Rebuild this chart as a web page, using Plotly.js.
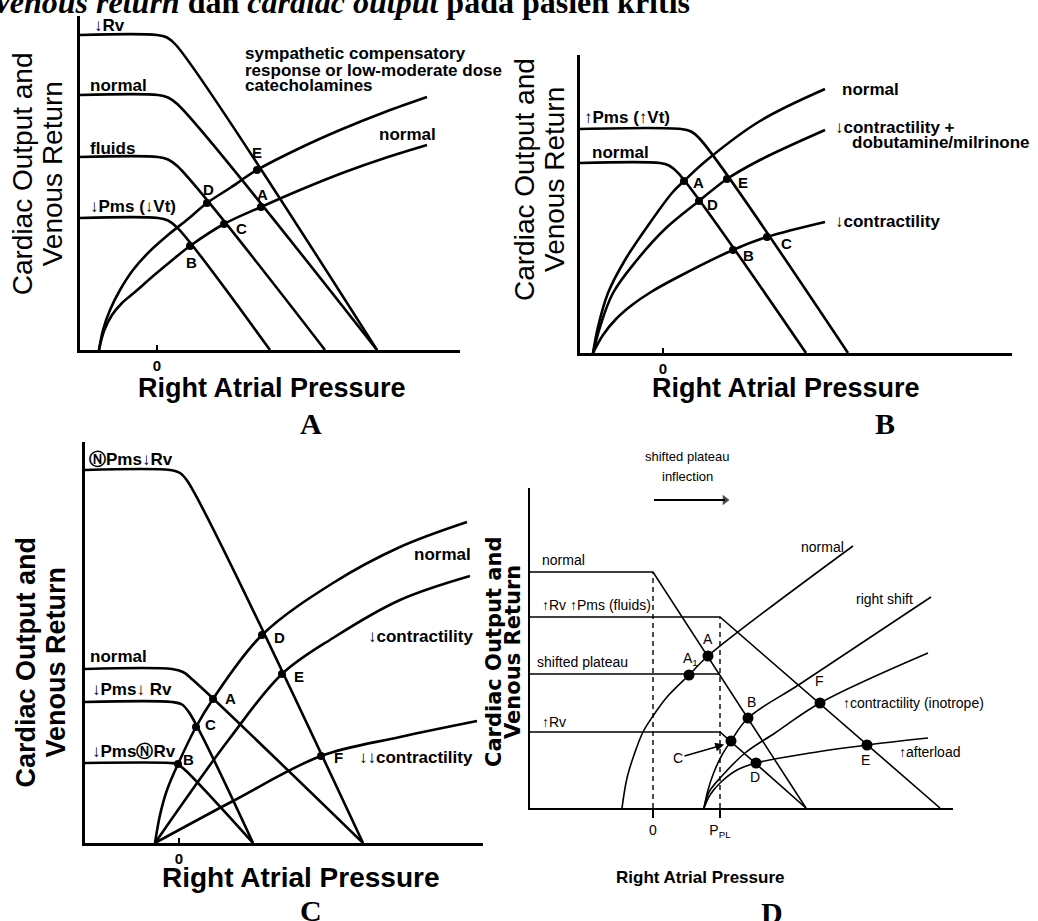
<!DOCTYPE html>
<html>
<head>
<meta charset="utf-8">
<script src="https://cdn.plot.ly/plotly-3.0.1.min.js"></script>
<style>html,body{margin:0;padding:0;background:#fff}#chart{width:1038px;height:921px}</style>
</head>
<body>
<div id="chart"></div>
<script>
// ---------------- Panel A (arbitrary units; 0 = "0" tick, y up from axis) ----------------
const aVrRvDownX   = [-7.7, 0.0, 1.0, 1.9, 22.0];
const aVrRvDownY   = [31.5, 31.5, 31.25, 30.5, 0];
const aVrNormalX   = [-7.7, 0.1, 1.1, 2.06, 22.0];
const aVrNormalY   = [25.5, 25.5, 25.25, 24.57, 0];
const aVrFluidsX   = [-7.7, 0.1, 1.1, 2.06, 16.8];
const aVrFluidsY   = [19.3, 19.3, 19.05, 18.37, 0];
const aVrPmsDownX  = [-7.7, 0.1, 1.1, 2.03, 11.3];
const aVrPmsDownY  = [13.2, 13.2, 12.95, 12.24, 0];
const aCoSympX     = [-5.8, -5.4, -4.7, -3.7, -2.4, -0.8, 1.1, 3.1, 5.0, 7.3, 10.0, 14.3, 18.3, 22.8, 27.0];
const aCoSympY     = [0, 2.0, 4.0, 6.0, 8.0, 9.8, 11.5, 13.1, 14.7, 16.2, 18.0, 20.2, 22.0, 23.8, 25.3];
const aCoNormalX   = [-5.8, -5.3, -4.5, -3.5, -2.2, -0.5, 1.3, 3.3, 6.7, 10.4, 14.3, 18.8, 22.8, 27.0];
const aCoNormalY   = [0, 1.9, 3.5, 4.7, 5.8, 7.3, 8.8, 10.4, 12.6, 14.3, 16.0, 17.8, 19.2, 20.5];
const aPtsX        = [10.0, 5.0, 10.4, 6.7, 3.3];
const aPtsY        = [18.0, 14.7, 14.3, 12.6, 10.4];

// ---------------- Panel B ----------------
const bVrPmsUpX    = [-8.3, 1.8, 2.8, 3.7, 18.5];
const bVrPmsUpY    = [22.4, 22.4, 22.15, 21.4, 0];
const bVrNormalX   = [-8.3, -0.3, 0.6, 1.5, 14.3];
const bVrNormalY   = [19.0, 19.0, 18.75, 18.02, 0];
const bCoNormalX   = [-7.0, -6.5, -5.5, -3.8, -1.6, 0.9, 2.1, 4.4, 9.7, 16.2];
const bCoNormalY   = [0, 2.6, 6.0, 9.3, 12.6, 16.0, 17.2, 19.3, 23.2, 26.4];
const bCoDobuX     = [-7.0, -6.3, -5.0, -2.6, 0.2, 3.6, 6.4, 9.7, 16.2];
const bCoDobuY     = [0, 2.6, 6.0, 9.3, 12.4, 15.2, 17.4, 19.3, 22.3];
const bCoLowX      = [-7.0, -6.0, -4.7, -3.1, -1.2, 1.5, 7.0, 10.4, 16.2];
const bCoLowY      = [0, 1.8, 3.4, 4.8, 6.1, 7.6, 10.3, 11.6, 13.1];
const bPtsX        = [2.1, 6.4, 3.6, 7.0, 10.4];
const bPtsY        = [17.2, 17.4, 15.2, 10.3, 11.6];

// ---------------- Panel C ----------------
const cVrTopX      = [-9.4, -0.9, 0.1, 0.82, 18.4];
const cVrTopY      = [37.3, 37.3, 37.0, 36.22, 0];
const cVrNormalX   = [-9.4, -0.7, 0.4, 1.4, 18.4];
const cVrNormalY   = [17.4, 17.4, 17.1, 16.3, 0];
const cVrLowBothX  = [-9.4, -0.7, 0.3, 1.03, 7.4];
const cVrLowBothY  = [14.1, 14.1, 13.85, 13.02, 0];
const cVrLowPmsX   = [-9.4, -0.9, -0.2, 0.5, 7.4];
const cVrLowPmsY   = [8.0, 8.0, 7.9, 7.4, 0];
const cCoNormalX   = [-2.4, -1.9, -1.2, -0.1, 1.7, 3.4, 8.3, 15.4, 22.1, 28.8];
const cCoNormalY   = [0, 2.8, 5.3, 7.9, 11.6, 14.4, 20.8, 26.0, 29.6, 32.1];
const cCoLowX      = [-2.4, 1.1, 5.1, 10.3, 15.4, 22.1, 29.1];
const cCoLowY      = [0, 5.0, 10.5, 16.9, 20.5, 24.3, 26.7];
const cCoVeryLowX  = [-2.4, 5.4, 14.2, 22.1, 29.8];
const cCoVeryLowY  = [0, 4.2, 8.7, 10.6, 12.2];
const cPtsX        = [8.3, 10.3, 3.4, 1.7, -0.1, 14.2];
const cPtsY        = [20.8, 16.9, 14.4, 11.6, 7.9, 8.7];

// ---------------- Panel D ----------------
const dPpl         = 6.7;
const dVrNormalX   = [-12.3, 0, 15.3];
const dVrNormalY   = [23.6, 23.6, 0];
const dVrFluidsX   = [-12.3, 6.7, 28.7];
const dVrFluidsY   = [19.1, 19.1, 0];
const dShiftPlatX  = [-12.3, 6.7];
const dShiftPlatY  = [13.4, 13.4];
const dVrRvX       = [-12.3, 6.7, 15.3];
const dVrRvY       = [7.6, 7.6, 0];
const dDash0X      = [0, 0];
const dDash0Y      = [0, 23.6];
const dDashPplX    = [6.7, 6.7];
const dDashPplY    = [0, 19.1];
const dCoNormalX   = [-3.1, -2.6, -1.9, -1.0, 0, 1.4, 3.6, 5.5, 20.0];
const dCoNormalY   = [0, 3.0, 5.3, 7.6, 9.2, 11.1, 13.3, 15.2, 26.2];
const dCoRightX    = [5.1, 5.5, 6.1, 6.9, 7.8, 9.5, 14.7, 27.8];
const dCoRightY    = [0, 1.8, 3.6, 5.3, 6.7, 9.0, 12.4, 21.1];
const dCoInoX      = [5.1, 5.6, 6.8, 9.2, 12.2, 16.7, 27.5];
const dCoInoY      = [0, 1.6, 3.1, 5.5, 7.5, 10.5, 15.5];
const dCoAfterX    = [5.1, 5.7, 6.7, 8.4, 10.3, 15.7, 21.4, 27.5];
const dCoAfterY    = [0, 1.3, 2.5, 3.8, 4.5, 5.5, 6.3, 7.0];
const dPtsX        = [5.5, 3.6, 9.5, 7.8, 10.3, 21.4, 16.7];
const dPtsY        = [15.2, 13.3, 9.0, 6.7, 4.5, 6.3, 10.5];
const dShiftArrowX = [0.1, 7.2];
const dShiftArrowY = [30.8, 30.8];

// ---------------- Text ----------------
const tickZero = ['0'];
const tickD = ['0', 'P<sub>PL</sub>'];

const W = 1038, H = 921;
const SANS = 'Liberation Sans, Arial, sans-serif';
const SERIF = 'Liberation Serif, Times New Roman, serif';
const DJ = 'DejaVu Sans, sans-serif';

const px = p => p / W;
const py = p => 1 - p / H;

const traces = [];
function curve(x, y, ax, w, shape, dash) {
  traces.push({type: 'scatter', mode: 'lines', x: x, y: y, xaxis: ax[0], yaxis: ax[1],
    line: {color: '#000', width: w, shape: shape || 'spline', smoothing: 1, dash: dash || 'solid'},
    hoverinfo: 'skip', showlegend: false});
}
function dots(x, y, ax, size) {
  traces.push({type: 'scatter', mode: 'markers', x: x, y: y, xaxis: ax[0], yaxis: ax[1],
    marker: {color: '#000', size: size}, hoverinfo: 'skip', showlegend: false, cliponaxis: false});
}
const A = ['x', 'y'], B = ['x2', 'y2'], C = ['x3', 'y3'], D = ['x4', 'y4'];

// Panel A
[[aVrRvDownX, aVrRvDownY], [aVrNormalX, aVrNormalY], [aVrFluidsX, aVrFluidsY], [aVrPmsDownX, aVrPmsDownY],
 [aCoSympX, aCoSympY], [aCoNormalX, aCoNormalY]].forEach(c => curve(c[0], c[1], A, 2.6));
dots(aPtsX, aPtsY, A, 8);
// Panel B
[[bVrPmsUpX, bVrPmsUpY], [bVrNormalX, bVrNormalY], [bCoNormalX, bCoNormalY], [bCoDobuX, bCoDobuY],
 [bCoLowX, bCoLowY]].forEach(c => curve(c[0], c[1], B, 2.6));
dots(bPtsX, bPtsY, B, 8);
// Panel C
[[cVrTopX, cVrTopY], [cVrNormalX, cVrNormalY], [cVrLowBothX, cVrLowBothY], [cVrLowPmsX, cVrLowPmsY],
 [cCoNormalX, cCoNormalY], [cCoLowX, cCoLowY], [cCoVeryLowX, cCoVeryLowY]].forEach(c => curve(c[0], c[1], C, 2.6));
dots(cPtsX, cPtsY, C, 8);
// Panel D
[[dVrNormalX, dVrNormalY], [dVrFluidsX, dVrFluidsY], [dShiftPlatX, dShiftPlatY], [dVrRvX, dVrRvY]]
  .forEach(c => curve(c[0], c[1], D, 1.6, 'linear'));
curve(dDash0X, dDash0Y, D, 1.4, 'linear', '5px,4px');
curve(dDashPplX, dDashPplY, D, 1.4, 'linear', '5px,4px');
[[dCoNormalX, dCoNormalY], [dCoRightX, dCoRightY], [dCoInoX, dCoInoY], [dCoAfterX, dCoAfterY]]
  .forEach(c => curve(c[0], c[1], D, 1.6));
dots(dPtsX, dPtsY, D, 11);
// "shifted plateau inflection" arrow
traces.push({type: 'scatter', mode: 'lines+markers', x: dShiftArrowX, y: dShiftArrowY, xaxis: 'x4', yaxis: 'y4',
  line: {color: '#000', width: 2.2}, marker: {symbol: ['line-ns', 'triangle-right'], size: [0.1, 9], color: '#000',
  line: {width: 0}}, hoverinfo: 'skip', showlegend: false, cliponaxis: false});

// Axes
function xAxis(d0, d1, range, tv, tt, anchor, opt) {
  return Object.assign({domain: [px(d0), px(d1)], range: range, anchor: anchor, showline: true,
    linecolor: '#000', linewidth: 3, showgrid: false, zeroline: false, tickmode: 'array',
    tickvals: tv, ticktext: tt, ticks: 'inside', ticklen: 5, tickwidth: 2, tickcolor: '#000',
    tickfont: {family: SANS, size: 15, color: '#000', weight: 'bold'}, fixedrange: true}, opt || {});
}
function yAxis(top, bottom, range, anchor, opt) {
  return Object.assign({domain: [py(bottom), py(top)], range: range, anchor: anchor, showline: true,
    linecolor: '#000', linewidth: 3, showgrid: false, zeroline: false, showticklabels: false,
    ticks: '', fixedrange: true}, opt || {});
}

const ann = [];
function lab(text, x, y, ax, o) {
  o = o || {};
  ann.push({text: text, x: x, y: y, xref: ax[0], yref: ax[1], showarrow: false,
    xanchor: o.xa || 'left', yanchor: 'middle',
    font: {family: o.fam || SANS, size: o.size || 17, color: '#000', weight: o.w || 'bold'}});
}
function pap(text, x, y, o) {
  o = o || {};
  ann.push({text: text, x: px(x), y: py(y), xref: 'paper', yref: 'paper', showarrow: false,
    xanchor: o.xa || 'center', yanchor: 'middle', textangle: o.angle || 0,
    font: {family: o.fam || SANS, size: o.size || 17, color: '#000', weight: o.w || 'normal'}});
}

// Title (cut at top, as in the source)
pap('<i>Venous return</i> dan <i>cardiac output</i> pada pasien kritis', -10, 2, {xa: 'left', fam: SERIF, size: 32, w: 'bold'});

// Panel A text
lab('↓Rv', -6.5, 32.5, A);
lab('normal', -6.9, 26.5, A);
lab('fluids', -6.9, 20.2, A);
lab('↓Pms (↓Vt)', -6.9, 14.4, A);
lab('sympathetic compensatory', 8.6, 29.7, A);
lab('response or low-moderate dose', 8.6, 28.0, A);
lab('catecholamines', 8.6, 26.5, A);
lab('normal', 22.0, 21.6, A);
[['E', 10.0, 19.8], ['D', 5.1, 16.1], ['A', 10.5, 15.6], ['C', 8.4, 12.2], ['B', 3.4, 8.8]]
  .forEach(p => lab(p[0], p[1], p[2], A, {xa: 'center', size: 15}));
pap('Cardiac Output and', 23.3, 174, {angle: -90, size: 28});
pap('Venous Return', 53.3, 174, {angle: -90, size: 28});
pap('Right Atrial Pressure', 271.5, 388, {size: 27, w: 'bold'});
pap('A', 311, 423, {fam: SERIF, size: 30, w: 'bold'});

// Panel B text
lab('↑Pms (↑Vt)', -8.1, 23.6, B);
lab('normal', -7.3, 20.1, B);
lab('normal', 17.7, 26.4, B);
lab('↓contractility +', 17.0, 22.6, B);
lab('dobutamine/milrinone', 18.7, 21.1, B);
lab('↓contractility', 17.0, 13.2, B);
[['A', 3.5, 17.1], ['E', 8.0, 17.1], ['D', 4.9, 14.9], ['C', 12.3, 11.0], ['B', 8.5, 9.8]]
  .forEach(p => lab(p[0], p[1], p[2], B, {xa: 'center', size: 15}));
pap('Cardiac Output and', 525, 180, {angle: -90, size: 28});
pap('Venous Return', 555, 180, {angle: -90, size: 28});
pap('Right Atrial Pressure', 786, 388, {size: 27, w: 'bold'});
pap('B', 885, 423, {fam: SERIF, size: 30, w: 'bold'});

// Panel C text
lab('ⓃPms↓Rv', -9.2, 38.4, C);
lab('normal', -9.1, 18.7, C);
lab('↓Pms↓ Rv', -8.9, 15.4, C);
lab('↓PmsⓃRv', -8.9, 9.2, C);
lab('normal', 29.4, 28.9, C, {xa: 'right'});
lab('↓contractility', 29.6, 20.7, C, {xa: 'right'});
lab('↓↓contractility', 29.6, 8.6, C, {xa: 'right'});
[['D', 10.0, 20.6], ['E', 12.0, 16.7], ['A', 5.1, 14.5], ['C', 3.1, 11.9], ['B', 0.9, 8.4], ['F', 15.9, 8.6]]
  .forEach(p => lab(p[0], p[1], p[2], C, {xa: 'center', size: 15}));
pap('Cardiac Output and', 25.6, 662, {angle: -90, size: 27, w: 'bold'});
pap('Venous Return', 55.6, 662, {angle: -90, size: 27, w: 'bold'});
pap('Right Atrial Pressure', 300, 877, {size: 28, w: 'bold'});
pap('C', 311, 910, {fam: SERIF, size: 30, w: 'bold'});

// Panel D text
const nf = {size: 14, w: 'normal'};
lab('normal', -11.3, 24.8, D, nf);
lab('↑Rv ↑Pms (fluids)', -11.3, 20.3, D, nf);
lab('shifted plateau', -11.8, 14.6, D, nf);
lab('↑Rv', -11.3, 8.6, D, nf);
lab('normal', 14.6, 26.1, D, nf);
lab('right shift', 20.1, 20.9, D, nf);
lab('↑contractility (inotrope)', 18.8, 10.5, D, nf);
lab('↑afterload', 24.4, 5.6, D, nf);
[['A', 5.5, 16.9], ['A<sub>1</sub>', 3.7, 14.9], ['B', 9.8, 10.6], ['D', 10.2, 3.1], ['E', 21.2, 4.8], ['F', 16.6, 12.7]]
  .forEach(p => lab(p[0], p[1], p[2], D, {xa: 'center', size: 14, w: 'normal'}));
ann.push({text: 'C', x: 7.3, y: 6.4, xref: 'x4', yref: 'y4', showarrow: true, ax: -48, ay: 14,
  arrowhead: 2, arrowsize: 1.1, arrowwidth: 1.6, arrowcolor: '#000', standoff: 2,
  font: {family: SANS, size: 14, color: '#000'}});
pap('shifted plateau', 687, 456, {size: 13});
pap('inflection', 687, 476, {size: 13});
pap('Cardiac Output and', 494, 652, {angle: -90, fam: DJ, size: 21, w: 'bold'});
pap('Venous Return', 513, 652, {angle: -90, fam: DJ, size: 21, w: 'bold'});
pap('Right Atrial Pressure', 700, 877, {size: 17, w: 'bold'});
pap('D', 772, 912, {fam: SERIF, size: 30, w: 'bold'});

const layout = {
  width: W, height: H, autosize: false,
  margin: {l: 0, r: 0, t: 0, b: 0, pad: 0},
  paper_bgcolor: '#fff', plot_bgcolor: '#fff', showlegend: false,
  xaxis:  xAxis(80, 460, [-7.7, 30.3], [0], tickZero, 'y'),
  yaxis:  yAxis(16, 350, [0, 33.4], 'x'),
  xaxis2: xAxis(580, 1012, [-8.3, 34.9], [0], tickZero, 'y2'),
  yaxis2: yAxis(55, 353, [0, 29.8], 'x2'),
  xaxis3: xAxis(85, 483, [-9.4, 30.4], [0], tickZero, 'y3'),
  yaxis3: yAxis(442, 843, [0, 40.1], 'x3'),
  xaxis4: xAxis(530, 953, [-12.3, 30.0], [0, dPpl], tickD, 'y4',
    {linewidth: 2, ticks: 'outside', ticklen: 8, tickwidth: 1.4,
     tickfont: {family: SANS, size: 14, color: '#000'}}),
  yaxis4: yAxis(488, 808, [0, 32.0], 'x4', {linewidth: 2}),
  annotations: ann
};

Plotly.newPlot('chart', traces, layout, {staticPlot: true, displayModeBar: false});
</script>
</body>
</html>
